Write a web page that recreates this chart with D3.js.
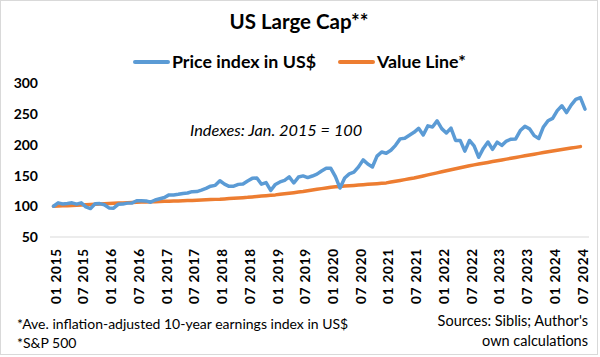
<!DOCTYPE html>
<html><head><meta charset="utf-8">
<script src="https://cdn.jsdelivr.net/npm/d3@7"></script>
<style>body{margin:0;background:#fff}svg{display:block;font-family:Lato,'Open Sans',sans-serif}</style>
</head><body><svg id="c" width="600" height="357"></svg>
<script>
// Price index in US$ (Jan 2015 = 100), monthly Jan 2015 – Aug 2024
const priceIndex = [
  100, 105.5, 103.7, 104.5, 105.6, 103.4, 105.5, 98.9, 96.2, 104.2, 104.3, 102.5,
  97.3, 96.9, 103.2, 103.5, 105.1, 105.2, 109.0, 108.8, 108.7, 106.6, 110.2, 112.2,
  114.2, 118.5, 118.4, 119.5, 120.9, 121.5, 123.8, 123.9, 126.3, 129.1, 132.7, 134.0,
  141.5, 136.0, 132.4, 132.7, 135.6, 136.3, 141.2, 145.4, 146.1, 135.9, 138.4, 125.7,
  135.5, 139.6, 142.1, 147.7, 137.9, 147.5, 149.4, 146.7, 149.2, 152.3, 157.4, 161.9,
  161.7, 148.1, 129.6, 146.0, 152.6, 155.4, 164.0, 175.5, 168.6, 163.9, 181.5, 188.3,
  186.2, 191.0, 199.1, 209.6, 210.7, 215.4, 220.3, 226.7, 215.9, 230.8, 228.9, 238.9,
  226.3, 219.2, 227.1, 207.1, 207.1, 189.7, 207.0, 198.2, 179.7, 194.1, 204.5, 192.5,
  204.3, 199.0, 206.0, 209.0, 209.5, 223.1, 230.0, 225.9, 214.9, 210.2, 229.0, 239.1,
  242.9, 255.5, 263.4, 252.4, 264.5, 273.7, 276.8, 258
];
// Value Line (ave. inflation-adjusted 10-year earnings index), Jan 2015 – Jul 2024
const valueLine = [
  100, 100.4, 100.7, 101.0, 101.4, 101.7, 102.0,
  102.4, 102.8, 103.2, 103.7, 104.1, 104.5,
  104.8, 105.2, 105.5, 105.8, 106.2, 106.5,
  106.8, 107.0, 107.3, 107.5, 107.8, 108.0,
  108.2, 108.5, 108.7, 109.0, 109.2, 109.5,
  109.8, 110.2, 110.5, 110.8, 111.2, 111.5,
  112.0, 112.5, 113.0, 113.5, 114.0, 114.5,
  115.2, 115.8, 116.5, 117.2, 117.8, 118.5,
  119.4, 120.3, 121.2, 122.1, 123.1, 124.0,
  125.2, 126.4, 127.5, 128.7, 129.8, 131.0,
  131.6, 132.2, 132.8, 133.3, 133.9, 134.5,
  135.1, 135.7, 136.3, 136.8, 137.4, 138.0,
  139.3, 140.7, 142.0, 143.3, 144.7, 146.0,
  147.7, 149.3, 151.0, 152.7, 154.3, 156.0,
  157.7, 159.3, 161.0, 162.7, 164.3, 166.0,
  167.3, 168.7, 170.0, 171.3, 172.7, 174.0,
  175.3, 176.7, 178.0, 179.3, 180.7, 182.0,
  183.3, 184.7, 186.0, 187.3, 188.7, 190.0,
  191.2, 192.3, 193.5, 194.7, 195.8, 197.0
];
const tickLabels = ["01 2015","07 2015","01 2016","07 2016","01 2017","07 2017","01 2018","07 2018","01 2019","07 2019",
  "01 2020","07 2020","01 2021","07 2021","01 2022","07 2022","01 2023","07 2023","01 2024","07 2024"];
const yTicks = [50, 100, 150, 200, 250, 300];
const seriesNames = ["Price index in US$", "Value Line*"];
const colors = ["#5B9BD5", "#ED7D31"];

// month categories "MM YYYY"
const months = [];
for (let yr = 2015; yr <= 2024; yr++) for (let m = 1; m <= 12; m++) {
  if (months.length < priceIndex.length) months.push(String(m).padStart(2, "0") + " " + yr);
}

const svg = d3.select("#c");
svg.append("rect").attr("x", 0.5).attr("y", 0.5).attr("width", 597).attr("height", 354)
  .attr("fill", "#fff").attr("stroke", "#d9d9d9");

const x = d3.scalePoint().domain(months).range([53.5, 585]);
const y = d3.scaleLinear().domain([50, 300]).range([237, 83.3]);

// title
svg.append("text").attr("x", 299).attr("y", 29).attr("text-anchor", "middle")
  .attr("font-size", 20.5).attr("font-weight", "bold").attr("fill", "#000").text("US Large Cap**");

// legend
const legX = [135, 340];
seriesNames.forEach((n, i) => {
  svg.append("line").attr("x1", legX[i]).attr("x2", legX[i] + 33).attr("y1", 62).attr("y2", 62)
    .attr("stroke", colors[i]).attr("stroke-width", 4).attr("stroke-linecap", "round");
  svg.append("text").attr("x", legX[i] + 37).attr("y", 68).attr("font-size", 17.8)
    .attr("font-weight", "bold").attr("fill", "#000").text(n);
});

// baseline
svg.append("line").attr("x1", 50).attr("x2", 589).attr("y1", y(50)).attr("y2", y(50))
  .attr("stroke", "#d9d9d9").attr("stroke-width", 1);

// y axis
const yAxis = svg.append("g").attr("transform", "translate(50,0)")
  .call(d3.axisLeft(y).tickValues(yTicks).tickSize(0).tickPadding(12));
yAxis.select(".domain").remove();
yAxis.selectAll("text").attr("font-size", 14).attr("font-weight", "bold").attr("fill", "#000")
  .attr("font-family", "Lato, sans-serif");

// x labels
svg.append("g").selectAll("text").data(tickLabels).join("text")
  .attr("transform", d => `translate(${x(d) + 2.5},248) rotate(-90)`)
  .attr("text-anchor", "end").attr("dy", "0.35em")
  .attr("font-size", 13.5).attr("font-weight", "bold").attr("fill", "#000")
  .attr("letter-spacing", 0.8)
  .text(d => d);

// annotation
svg.append("text").attr("x", 190).attr("y", 136).attr("font-size", 16.3)
  .attr("font-style", "italic").attr("fill", "#000").text("Indexes: Jan. 2015 = 100");

// lines
const line = d3.line().x((d, i) => x(months[i])).y(d => y(d));
svg.append("path").datum(valueLine).attr("d", line).attr("fill", "none")
  .attr("stroke", colors[1]).attr("stroke-width", 3.5).attr("stroke-linejoin", "round").attr("stroke-linecap", "round");
svg.append("path").datum(priceIndex).attr("d", line).attr("fill", "none")
  .attr("stroke", colors[0]).attr("stroke-width", 3.5).attr("stroke-linejoin", "round").attr("stroke-linecap", "round");

// footnotes
svg.append("text").attr("x", 17).attr("y", 329).attr("font-size", 14).attr("fill", "#000")
  .text("*Ave. inflation-adjusted 10-year  earnings index in US$");
svg.append("text").attr("x", 17).attr("y", 348).attr("font-size", 14).attr("fill", "#000")
  .text("*S&P 500");
svg.append("text").attr("x", 588).attr("y", 326).attr("text-anchor", "end").attr("font-size", 14.5).attr("fill", "#000")
  .text("Sources: Siblis; Author's");
svg.append("text").attr("x", 588).attr("y", 346).attr("text-anchor", "end").attr("font-size", 14.5).attr("fill", "#000")
  .text("own calculations");
</script></body></html>
